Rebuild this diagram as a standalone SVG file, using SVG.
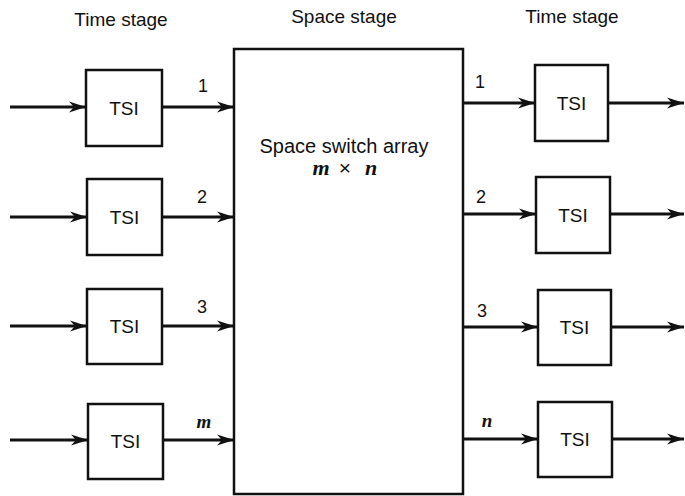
<svg xmlns="http://www.w3.org/2000/svg" width="685" height="496" viewBox="0 0 685 496">
<style>
.box{fill:#fff;stroke:#111;stroke-width:2.5}
.ln{stroke:#111;stroke-width:3;fill:none}
.hd{font-family:"Liberation Sans",Arial,sans-serif;font-size:19px;fill:#111;text-anchor:middle}
.tsi{font-family:"Liberation Sans",Arial,sans-serif;font-size:19px;fill:#111;text-anchor:middle}
.num{font-family:"Liberation Sans",Arial,sans-serif;font-size:18px;fill:#111;text-anchor:middle}
.it{font-family:"Liberation Serif","Times New Roman",serif;font-style:italic;font-weight:bold;fill:#111;text-anchor:middle}
</style>
<defs>
<marker id="ah" markerUnits="userSpaceOnUse" markerWidth="18" markerHeight="12" refX="17" refY="6" orient="auto">
<path d="M0,0.5 L17,6 L0,11.5 L5,6 Z" fill="#111"/>
</marker>
</defs>
<g id="headers">
<text class="hd" x="121" y="26">Time stage</text>
<text class="hd" x="344" y="23">Space stage</text>
<text class="hd" x="572" y="23">Time stage</text>
</g>
<g id="space-switch">
<rect class="box" x="234" y="49" width="229" height="445"/>
<text class="hd" x="344" y="153" style="font-size:20px">Space switch array</text>
<text class="it" x="321" y="175" style="font-size:22px">m</text>
<text x="345" y="175" style="font-family:'Liberation Sans',Arial,sans-serif;font-size:21px;fill:#111;text-anchor:middle">×</text>
<text class="it" x="371" y="175" style="font-size:22px">n</text>
</g>
<g id="tsi-in-1"><rect class="box" x="86" y="70" width="76" height="76"/><text class="tsi" x="124" y="115">TSI</text></g>
<g id="tsi-in-2"><rect class="box" x="87" y="179" width="75" height="76"/><text class="tsi" x="124.5" y="224">TSI</text></g>
<g id="tsi-in-3"><rect class="box" x="87" y="289" width="75" height="75"/><text class="tsi" x="124.5" y="333">TSI</text></g>
<g id="tsi-in-m"><rect class="box" x="88" y="404" width="75" height="75"/><text class="tsi" x="125.5" y="448">TSI</text></g>
<g id="tsi-out-1"><rect class="box" x="535" y="65" width="73" height="76"/><text class="tsi" x="571.5" y="110">TSI</text></g>
<g id="tsi-out-2"><rect class="box" x="536" y="177" width="74" height="76"/><text class="tsi" x="573" y="222">TSI</text></g>
<g id="tsi-out-3"><rect class="box" x="538" y="290" width="73" height="75"/><text class="tsi" x="574.5" y="334">TSI</text></g>
<g id="tsi-out-n"><rect class="box" x="538" y="402" width="74" height="75"/><text class="tsi" x="575" y="446">TSI</text></g>
<g id="connectors">
<line class="ln" x1="10" y1="107" x2="86" y2="107" marker-end="url(#ah)"/>
<line class="ln" x1="10" y1="217" x2="87" y2="217" marker-end="url(#ah)"/>
<line class="ln" x1="10" y1="326" x2="87" y2="326" marker-end="url(#ah)"/>
<line class="ln" x1="10" y1="440" x2="88" y2="440" marker-end="url(#ah)"/>
<line class="ln" x1="162" y1="107" x2="234" y2="107" marker-end="url(#ah)"/>
<line class="ln" x1="162" y1="217" x2="234" y2="217" marker-end="url(#ah)"/>
<line class="ln" x1="162" y1="326" x2="234" y2="326" marker-end="url(#ah)"/>
<line class="ln" x1="163" y1="440" x2="234" y2="440" marker-end="url(#ah)"/>
<line class="ln" x1="463" y1="103" x2="535" y2="103" marker-end="url(#ah)"/>
<line class="ln" x1="463" y1="214" x2="536" y2="214" marker-end="url(#ah)"/>
<line class="ln" x1="463" y1="327" x2="538" y2="327" marker-end="url(#ah)"/>
<line class="ln" x1="463" y1="439" x2="538" y2="439" marker-end="url(#ah)"/>
<line class="ln" x1="608" y1="103" x2="684" y2="103" marker-end="url(#ah)"/>
<line class="ln" x1="610" y1="214" x2="684" y2="214" marker-end="url(#ah)"/>
<line class="ln" x1="611" y1="327" x2="684" y2="327" marker-end="url(#ah)"/>
<line class="ln" x1="612" y1="439" x2="684" y2="439" marker-end="url(#ah)"/>
</g>
<g id="labels">
<text class="num" x="203" y="92">1</text>
<text class="num" x="202" y="203">2</text>
<text class="num" x="202" y="313">3</text>
<text class="it" x="204" y="428" style="font-size:19px">m</text>
<text class="num" x="480" y="88">1</text>
<text class="num" x="481" y="203">2</text>
<text class="num" x="482" y="317">3</text>
<text class="it" x="487" y="427" style="font-size:19px">n</text>
</g>
</svg>
